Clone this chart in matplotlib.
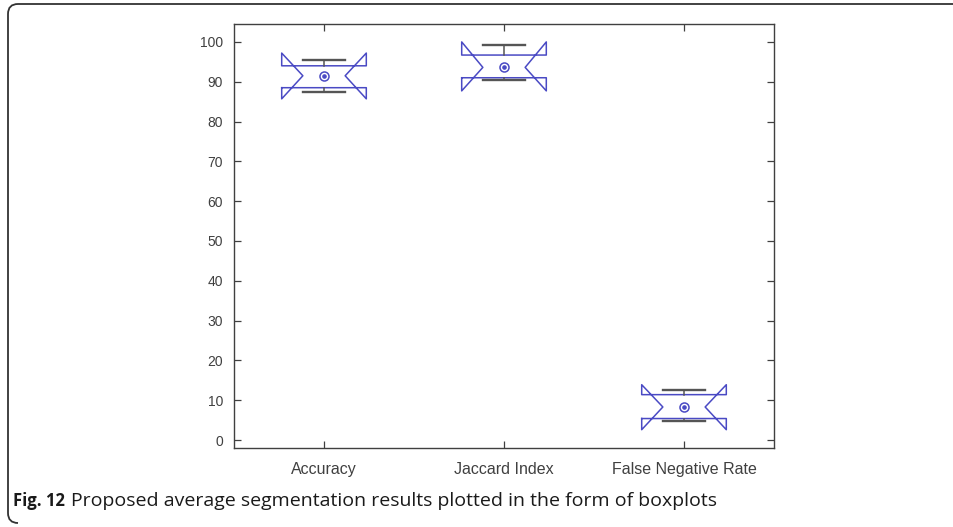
import matplotlib
matplotlib.use("Agg")
import matplotlib.pyplot as plt
from matplotlib.path import Path
from matplotlib.patches import PathPatch

# Segmentation metrics (percent)
categories = ["Accuracy", "Jaccard Index", "False Negative Rate"]
medians = [91.5, 93.6, 8.3]
q1 = [88.5, 91.0, 5.4]
q3 = [94.0, 96.7, 11.4]
notch_lo = [85.7, 87.7, 2.6]
notch_hi = [97.2, 100.0, 13.9]
whisker_lo = [87.5, 90.5, 4.7]
whisker_hi = [95.5, 99.2, 12.6]
yticks = [0, 10, 20, 30, 40, 50, 60, 70, 80, 90, 100]

caption_bold = "Fig. 12"
caption_text = "Proposed average segmentation results plotted in the form of boxplots"

W, H = 954, 527
fig = plt.figure(figsize=(W / 100, H / 100), dpi=100)
fig.patch.set_facecolor("white")

ax = fig.add_axes([234 / W, 1 - 448 / H, (774 - 234) / W, (448 - 24) / H])

positions = list(range(1, len(categories) + 1))
stats = []
for i in range(len(categories)):
    stats.append(dict(med=medians[i], q1=q1[i], q3=q3[i],
                      cilo=notch_lo[i], cihi=notch_hi[i],
                      whislo=whisker_lo[i], whishi=whisker_hi[i],
                      fliers=[], label=categories[i]))

box_blue = "#4a4ac4"
whisk_col = "#555555"
ax.bxp(stats, positions=positions, widths=0.47, shownotches=True,
       showfliers=False,
       boxprops=dict(color=box_blue, linewidth=1.1),
       whiskerprops=dict(color=whisk_col, linewidth=1.1),
       capprops=dict(color=whisk_col, linewidth=1.7),
       medianprops=dict(linestyle="none"))

# median "target" markers
ax.plot(positions, medians, linestyle="none", marker="o", ms=6.5,
        mfc="none", mec=box_blue, mew=1.1)
ax.plot(positions, medians, linestyle="none", marker="o", ms=2.3,
        mfc=box_blue, mec=box_blue)

ax.set_xlim(0.5, 3.5)
ax.set_ylim(-2.0, 104.5)
ax.set_yticks(yticks)
ax.set_xticks(positions)
ax.set_xticklabels(categories)

tick_family = ["Liberation Sans", "DejaVu Sans"]
for lab in ax.get_yticklabels():
    lab.set_fontfamily(tick_family)
    lab.set_fontsize(10)
    lab.set_color("#404040")
for lab in ax.get_xticklabels():
    lab.set_fontfamily(tick_family)
    lab.set_fontsize(11.5)
    lab.set_color("#404040")

spine_col = "#404040"
for s in ax.spines.values():
    s.set_color(spine_col)
    s.set_linewidth(1.0)
ax.tick_params(direction="in", length=5, width=0.9, color=spine_col,
               top=True, right=True, pad=8)
ax.tick_params(axis="x", pad=10)

# Panel frame: open on the right, rounded corners on the left
r = 10
x0, y0, y1 = 8, 4, 523
verts = [(W, y0), (x0 + r, y0), (x0, y0), (x0, y0 + r),
         (x0, y1 - r), (x0, y1), (x0 + r, y1)]
codes = [Path.MOVETO, Path.LINETO, Path.CURVE3, Path.CURVE3,
         Path.LINETO, Path.CURVE3, Path.CURVE3]
verts_fig = [(vx / W, 1 - vy / H) for vx, vy in verts]
frame = PathPatch(Path(verts_fig, codes), transform=fig.transFigure,
                  fill=False, edgecolor="#333333", linewidth=1.3)
fig.patches.append(frame)

cap_font = ["Open Sans", "DejaVu Sans"]
t1 = fig.text(13 / W, 1 - 501 / H, caption_bold, fontsize=12,
              fontweight="bold", family=cap_font, color="#1a1a1a",
              va="center", ha="left")
fig.canvas.draw()
bb = t1.get_window_extent()
fig.text((bb.x1 + 6) / W, 1 - 501 / H, caption_text, fontsize=14,
         family=cap_font, color="#1a1a1a", va="center", ha="left")

fig.savefig("out.png", dpi=100, facecolor="white")
